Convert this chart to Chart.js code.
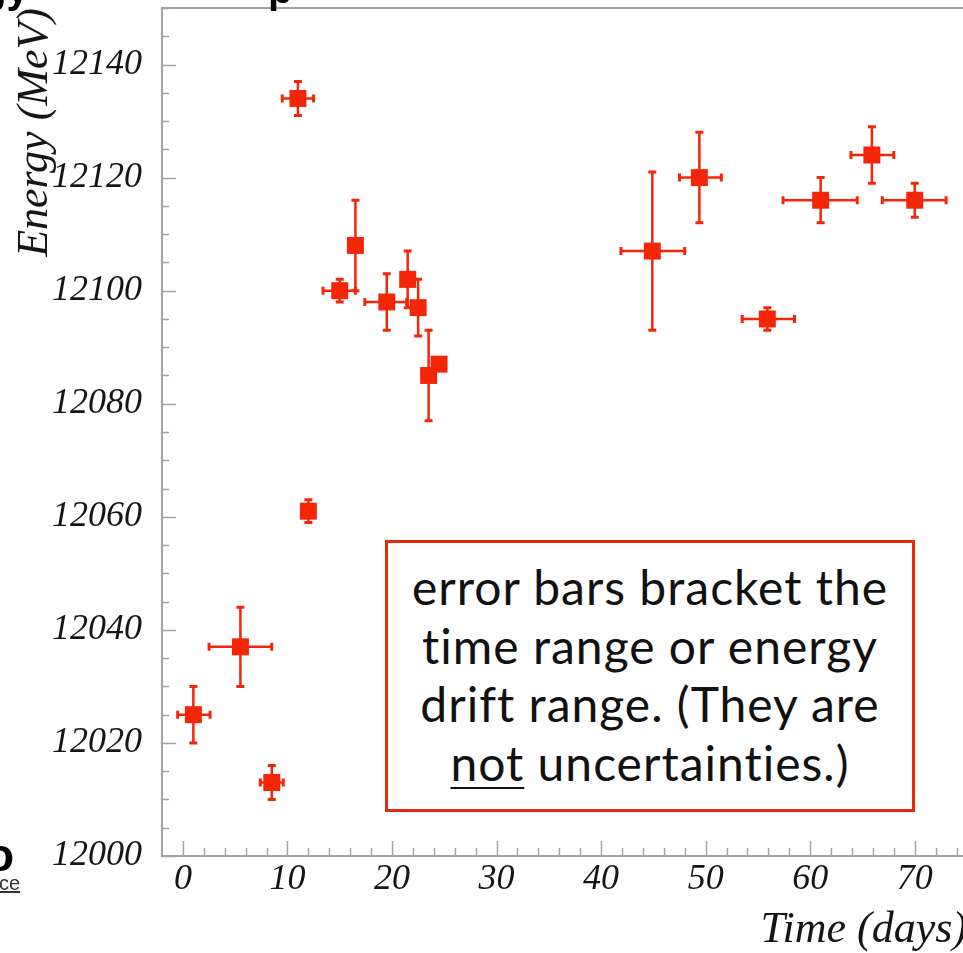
<!DOCTYPE html>
<html>
<head>
<meta charset="utf-8">
<script src="https://cdn.jsdelivr.net/npm/chart.js@4"></script>
<style>
  html, body { margin: 0; padding: 0; background: #fff; overflow: hidden; }
  #wrap { position: relative; width: 963px; height: 953px; overflow: hidden; }
  #chart { position: absolute; left: 0; top: 0; }
  .note {
    position: absolute; left: 385px; top: 540px; width: 530px; height: 272px;
    box-sizing: border-box; border: 3px solid #e62a0e; background: #fff;
    font-family: Lato, "Open Sans", sans-serif; font-size: 48px; line-height: 58.5px;
    letter-spacing: 1px; text-align: center; color: #111; padding-top: 15px; white-space: nowrap;
  }
  .note u { text-decoration-thickness: 2px; text-underline-offset: 6px; }
  .frag { position: absolute; font: bold 40px/40px "Liberation Sans", sans-serif; color: #000; }
  .frag-o { position: absolute; left: -14px; top: 828px; font: bold 46px "Liberation Sans", sans-serif; color: #000; }
  .frag-ce { position: absolute; left: -1px; top: 872px; font: 20px "Liberation Sans", sans-serif; color: #333; text-decoration: underline; }
</style>
</head>
<body>
<div id="wrap">
  <canvas id="chart" width="1000" height="960"></canvas>
  <div class="note">error bars bracket the<br>time range or energy<br>drift range. (They are<br><u>not</u> uncertainties.)</div>
  <div class="frag" style="left:-18px; top:-31px;">gy</div>
  <div class="frag" style="left:268px; top:-31px;">p</div>
  <div class="frag-o">o</div>
  <div class="frag-ce">ce</div>
</div>
<script>
const timeDays  = [1.0, 5.5, 8.5, 11.0, 12.0, 15.0, 16.5, 19.5, 21.5, 22.5, 23.5, 24.5, 44.9, 49.4, 55.9, 61.0, 65.9, 70.0];
const timeLow   = [-0.5, 2.5, 7.4, 9.5, 11.6, 13.4, 16.1, 17.4, 21.1, 22.1, 23.1, 24.1, 41.9, 47.5, 53.5, 57.4, 63.9, 66.9];
const timeHigh  = [2.6, 8.5, 9.6, 12.5, 12.4, 16.5, 16.9, 21.4, 21.9, 22.9, 23.9, 24.9, 48.0, 51.5, 58.5, 64.5, 68.0, 73.0];
const energyMeV = [12025, 12037, 12013, 12134, 12061, 12100, 12108, 12098, 12102, 12097, 12085, 12087, 12107, 12120, 12095, 12116, 12124, 12116];
const energyLow = [12020, 12030, 12010, 12131, 12059, 12098, 12100, 12093, 12097, 12092, 12077, 12086, 12093, 12112, 12093, 12112, 12119, 12113];
const energyHigh = [12030, 12044, 12016, 12137, 12063, 12102, 12116, 12103, 12107, 12102, 12093, 12088, 12121, 12128, 12097, 12120, 12129, 12119];

const xTicks = [0, 10, 20, 30, 40, 50, 60, 70];
const yTicks = [12000, 12020, 12040, 12060, 12080, 12100, 12120, 12140];

const markerRed = 'rgb(245, 38, 8)';
const axisGrey = '#a3a3a3';
const labelFont = { family: 'Liberation Serif', style: 'italic', size: 36 };
const titleFont = { family: 'Liberation Serif', style: 'italic', size: 44 };

// ROOT style frame with inward ticks
const frame = {
    id: 'frame',
    beforeDatasetsDraw(chart) {
        const { ctx, chartArea: a, scales: { x, y } } = chart;
        ctx.save();
        ctx.strokeStyle = axisGrey;
        ctx.lineWidth = 2;
        ctx.strokeRect(a.left, a.top, a.right - a.left, a.bottom - a.top);

        ctx.lineWidth = 1.5;
        ctx.beginPath();
        for (let v = 12000; v <= 12150; v += 5) {
            const py = Math.round(y.getPixelForValue(v)) + 0.5;
            const len = v % 20 === 0 ? 14 : 7;
            ctx.moveTo(a.left, py);
            ctx.lineTo(a.left + len, py);
        }
        for (let v = 0; v <= 75; v += 2) {
            const px = Math.round(x.getPixelForValue(v)) + 0.5;
            const len = v % 10 === 0 ? 15 : 8;
            ctx.moveTo(px, a.bottom);
            ctx.lineTo(px, a.bottom - len);
        }
        ctx.stroke();
        ctx.restore();
    }
};

const errorBars = {
    id: 'errorBars',
    beforeDatasetsDraw(chart) {
        const { ctx, scales: { x, y } } = chart;
        const cap = 4;
        ctx.save();
        ctx.strokeStyle = markerRed;
        timeDays.forEach((t, i) => {
            const px = x.getPixelForValue(t);
            const py = y.getPixelForValue(energyMeV[i]);
            const x0 = x.getPixelForValue(timeLow[i]);
            const x1 = x.getPixelForValue(timeHigh[i]);
            const y0 = y.getPixelForValue(energyLow[i]);
            const y1 = y.getPixelForValue(energyHigh[i]);
            ctx.lineWidth = 2.5;
            ctx.beginPath();
            ctx.moveTo(x0, py); ctx.lineTo(x1, py);
            ctx.moveTo(px, y0); ctx.lineTo(px, y1);
            ctx.stroke();
            ctx.lineWidth = 3;
            ctx.beginPath();
            ctx.moveTo(x0, py - cap); ctx.lineTo(x0, py + cap);
            ctx.moveTo(x1, py - cap); ctx.lineTo(x1, py + cap);
            ctx.moveTo(px - cap, y0); ctx.lineTo(px + cap, y0);
            ctx.moveTo(px - cap, y1); ctx.lineTo(px + cap, y1);
            ctx.stroke();
        });
        ctx.restore();
    }
};

new Chart(document.getElementById('chart'), {
    type: 'scatter',
    data: {
        datasets: [{
            data: timeDays.map((t, i) => ({ x: t, y: energyMeV[i] })),
            pointStyle: 'rect',
            pointRadius: 12,
            pointHoverRadius: 12,
            backgroundColor: markerRed,
            borderWidth: 0
        }]
    },
    options: {
        responsive: false,
        animation: false,
        devicePixelRatio: 1,
        layout: { autoPadding: false, padding: { left: 0, top: 8, right: 33, bottom: 0 } },
        plugins: { legend: { display: false }, tooltip: { enabled: false } },
        scales: {
            x: {
                type: 'linear',
                min: -2,
                max: 75,
                afterFit(scale) { scale.height = 104; scale.paddingLeft = 0; scale.paddingRight = 0; },
                afterBuildTicks(scale) { scale.ticks = xTicks.map(v => ({ value: v })); },
                grid: { display: false, drawTicks: false },
                border: { display: false },
                ticks: { padding: 2, font: labelFont, color: '#151515', maxRotation: 0, autoSkip: false, callback: v => String(v) },
                title: { display: true, text: 'Time (days)', align: 'end', font: titleFont, color: '#151515', padding: { top: 0, bottom: 3 } }
            },
            y: {
                type: 'linear',
                min: 12000,
                max: 12150,
                afterFit(scale) { scale.width = 162; scale.paddingTop = 0; scale.paddingBottom = 0; },
                afterBuildTicks(scale) { scale.ticks = yTicks.map(v => ({ value: v })); },
                grid: { display: false, drawTicks: false },
                border: { display: false },
                ticks: { padding: 20, font: labelFont, color: '#151515', autoSkip: false, callback: v => String(v) },
                title: { display: true, text: 'Energy (MeV)', align: 'end', font: titleFont, color: '#151515', padding: { top: 9, bottom: 0 } }
            }
        }
    },
    plugins: [frame, errorBars]
});
</script>
</body>
</html>
